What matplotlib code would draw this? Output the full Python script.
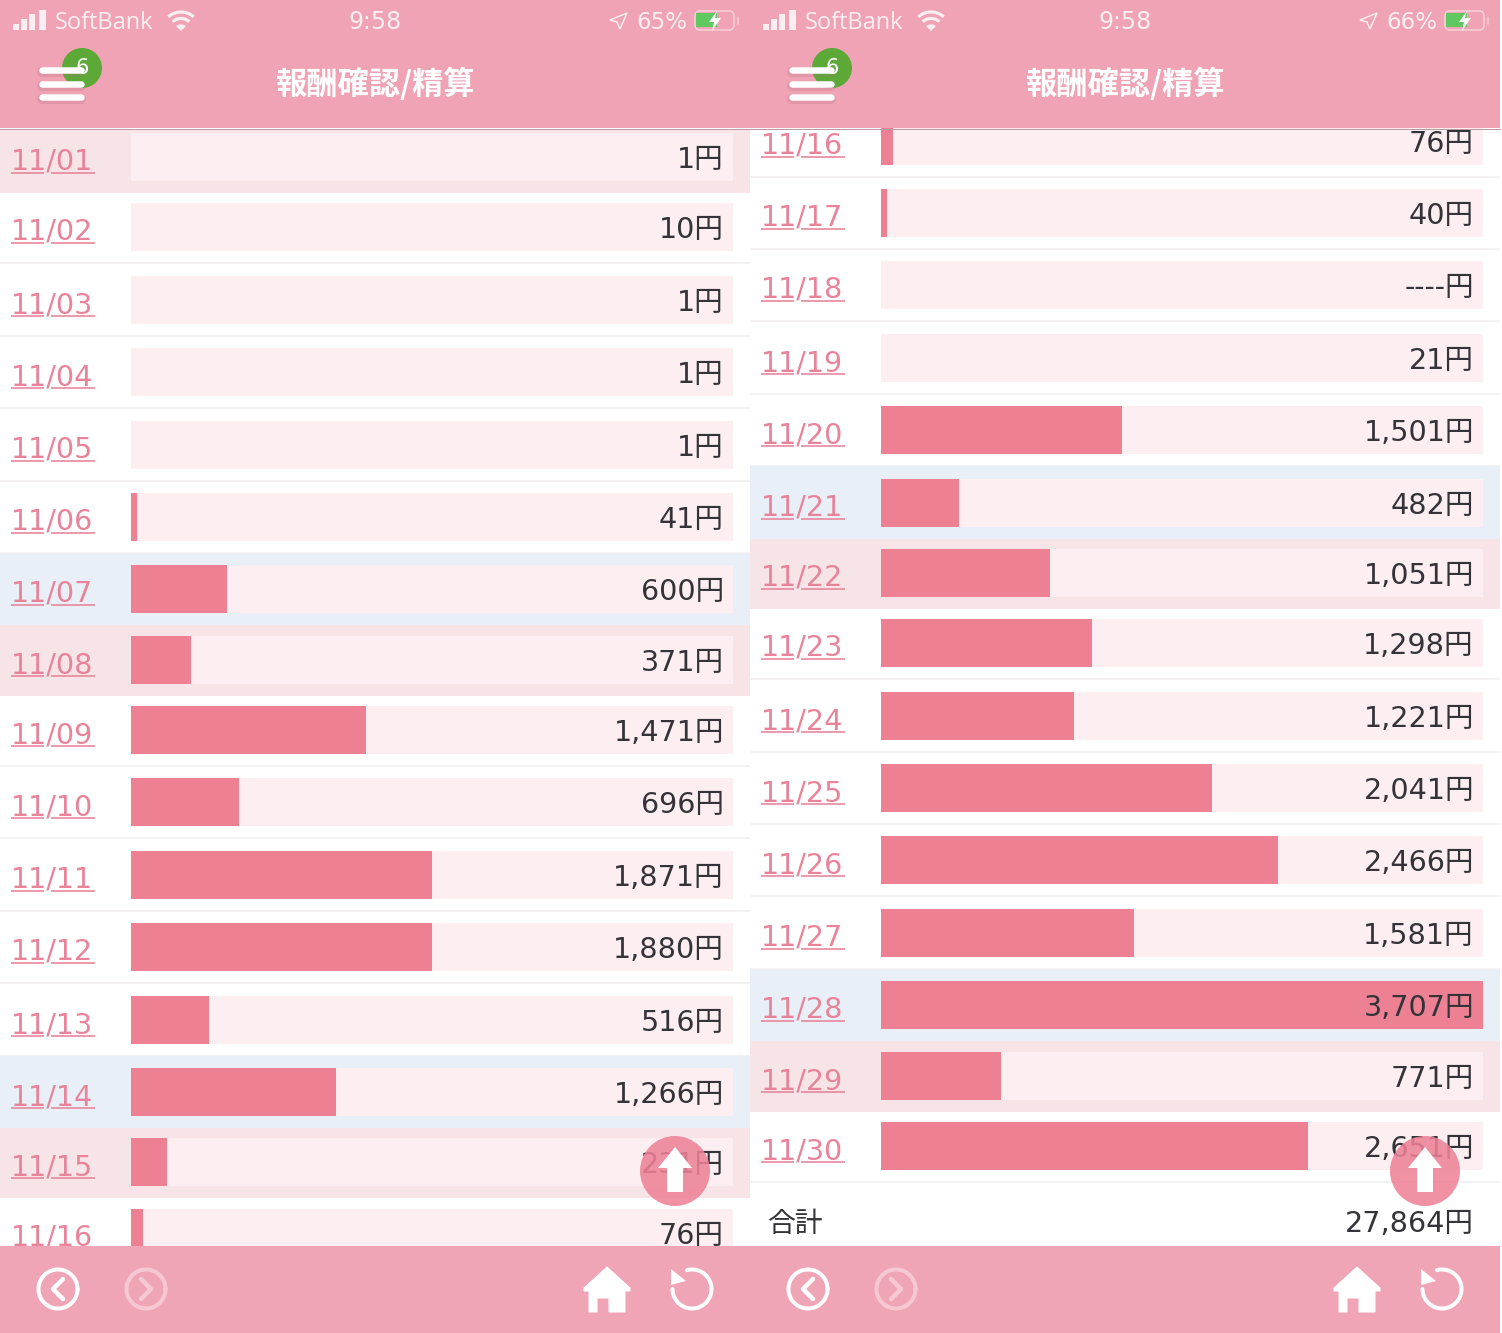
import numpy as np
import matplotlib
matplotlib.use("Agg")
import matplotlib.pyplot as plt
from matplotlib.patches import Rectangle, Circle, Polygon, FancyBboxPatch

# ---------- data ----------
left_dates = ["11/01","11/02","11/03","11/04","11/05","11/06","11/07","11/08",
              "11/09","11/10","11/11","11/12","11/13","11/14","11/15","11/16"]
left_labels = ["1円","10円","1円","1円","1円","41円","600円","371円","1,471円","696円",
               "1,871円","1,880円","516円","1,266円","231円","76円"]
left_percent = [0,0,0,0,0,1,16,10,39,18,50,50,13,34,6,2]

right_dates = ["11/16","11/17","11/18","11/19","11/20","11/21","11/22","11/23",
               "11/24","11/25","11/26","11/27","11/28","11/29","11/30"]
right_labels = ["76円","40円","----円","21円","1,501円","482円","1,051円","1,298円","1,221円",
                "2,041円","2,466円","1,581円","3,707円","771円","2,651円"]
right_percent = [2,1,0,0,40,13,28,35,32,55,66,42,100,20,71]

total_label = "合計"
total_value = "27,864円"
title = "報酬確認/精算"

# ---------- layout (pixels of the screenshot) ----------
W, H = 1502, 1333
left_rows = [157,227,300,372,445,517,589,660,730,802,875,947,1020,1092,1162,1233]
right_rows = [141,213,285,358,430,503,573,643,716,788,860,933,1005,1076,1146]
left_tint = {0:"#f7e4e7", 6:"#e9eff6", 7:"#f7e4e7", 13:"#e9eff6", 14:"#f7e4e7"}
right_tint = {5:"#e9eff6", 6:"#f7e4e7", 12:"#e9eff6", 13:"#f7e4e7"}

HEAD = "#efa3b4"; FOOT = "#efa5b6"; TRACK = "#fceef1"; BAR = "#ee8094"
LINK = "#e8839a"; INK = "#333338"; SEP = "#f4f1f2"; WHITE = "#ffffff"; SOFT = "#fbeef1"
NUM = ["DejaVu Sans", "Noto Sans CJK JP"]
PX = 0.72

fig = plt.figure(figsize=(W/100, H/100), dpi=100, facecolor="white")

def page(z):
    a = fig.add_axes([0, 0, 1, 1], zorder=z)
    a.set_xlim(0, W); a.set_ylim(H, 0); a.axis("off"); a.patch.set_visible(False)
    return a

base = page(0)
texts = page(3)
chrome = page(4)

def panel(dx, dates, labels, pct, rows, tint):
    # row bands and separators
    top = 129
    for i, yc in enumerate(rows):
        bottom = yc + 36
        if i in tint:
            base.add_patch(Rectangle((dx, top), 750, bottom - top, fc=tint[i], ec="none"))
        else:
            base.add_patch(Rectangle((dx, bottom - 1), 750, 2, fc=SEP, ec="none"))
        top = bottom
    # bars on their own percent scale
    ax = fig.add_axes([(dx + 131)/W, 0, 602/W, 1], zorder=2)
    ax.set_xlim(0, 100); ax.set_ylim(H, 0); ax.axis("off"); ax.patch.set_visible(False)
    ax.barh(rows, [100]*len(rows), height=48, color=TRACK, linewidth=0)
    ax.barh(rows, pct, height=48, color=BAR, linewidth=0)
    # labels
    for d, l, yc in zip(dates, labels, rows):
        texts.text(dx + 11, yc + 13, d, family="DejaVu Sans", fontsize=20.6, color=LINK,
                   ha="left", va="baseline")
        texts.plot([dx + 11, dx + 44], [yc + 16, yc + 16], color=LINK, lw=1.6*PX, solid_capstyle="butt")
        texts.plot([dx + 51, dx + 95], [yc + 16, yc + 16], color=LINK, lw=1.6*PX, solid_capstyle="butt")
        texts.text(dx + 724, yc + 11, l, family=NUM, fontsize=20.6, color=INK, ha="right", va="baseline")

panel(0, left_dates, left_labels, left_percent, left_rows, left_tint)
panel(750, right_dates, right_labels, right_percent, right_rows, right_tint)
texts.set_xlim(0, W); texts.set_ylim(H, 0)

texts.text(767, 1232, total_label, family="Noto Sans CJK JP", fontsize=20, color=INK, ha="left", va="baseline")
texts.text(1474, 1232, total_value, family=NUM, fontsize=20.6, color=INK, ha="right", va="baseline")

def line(xs, ys, w, c=WHITE, alpha=1, cap="round"):
    chrome.plot(xs, ys, color=c, lw=w*PX, alpha=alpha, solid_capstyle=cap, solid_joinstyle="round")

def arc(cx, cy, r, a0, a1, w, c=WHITE, alpha=1, cap="round"):
    t = np.radians(np.linspace(a0, a1, 90))
    line(cx + r*np.cos(t), cy - r*np.sin(t), w, c, alpha, cap)

def chrome_panel(dx, pct):
    chrome.add_patch(Rectangle((dx, 0), 750, 128, fc=HEAD, ec="none"))
    chrome.plot([dx, dx + 750], [128.5, 128.5], color="#b99aa3", lw=1*PX)
    chrome.add_patch(Rectangle((dx, 1246), 750, 87, fc=FOOT, ec="none"))

    # status bar
    for x, t in zip([13, 21, 29, 39], [24, 19, 14, 10]):
        chrome.add_patch(Rectangle((dx + x, t), 6 if x < 39 else 7, 30 - t, fc=SOFT, ec="none"))
    chrome.text(dx + 55, 29, "SoftBank", family="Open Sans", fontsize=17, color=SOFT, va="baseline")
    arc(dx + 181, 31, 19, 48, 132, 3.2, SOFT, cap="butt")
    arc(dx + 181, 31, 12.5, 48, 132, 3.2, SOFT, cap="butt")
    chrome.add_patch(Polygon([(dx+181, 31), (dx+176, 26), (dx+179, 24.5), (dx+183, 24.5), (dx+186, 26)], fc=SOFT, ec="none"))
    chrome.text(dx + 375, 29, "9:58", family="DejaVu Sans", fontsize=17, color=SOFT, ha="center", va="baseline")
    chrome.add_patch(Polygon([(dx+610, 20), (dx+627, 13), (dx+620, 29), (dx+617, 22)], fc="none", ec=SOFT, lw=1.5*PX))
    chrome.text(dx + 687, 29, pct, family="DejaVu Sans", fontsize=16.5, color=SOFT, ha="right", va="baseline")
    chrome.add_patch(FancyBboxPatch((dx+695, 11), 39, 19, boxstyle="round,pad=0,rounding_size=5",
                                    fc="none", ec=WHITE, alpha=0.5, lw=1.5*PX))
    chrome.add_patch(Rectangle((dx+696, 13), 21, 14, fc="#5fc85f", ec="none"))
    chrome.add_patch(Polygon([(dx+717, 11), (dx+709, 22), (dx+714, 22), (dx+712, 31), (dx+721, 18), (dx+715, 18)], fc=WHITE, ec="none"))
    line([dx+738, dx+738], [17, 24], 1.5, WHITE, 0.5)

    # menu
    for y in (70, 84, 97):
        line([dx+42, dx+81], [y+2, y+2], 10, "#b06a7c", 0.22)
        line([dx+42, dx+81], [y, y], 6.5)
    chrome.add_patch(Circle((dx+82, 68), 20, fc="#5ca938", ec="none"))
    chrome.text(dx+82, 68, "6", family="DejaVu Sans", fontsize=15, color=WHITE, ha="center", va="center")

    chrome.text(dx+375, 84, title, family="Noto Sans CJK JP", fontweight="bold", fontsize=22.5,
                color=WHITE, ha="center", va="center")

    # scroll-to-top button
    chrome.add_patch(Circle((dx+675, 1171), 35, fc="#ee8197", ec="none", alpha=0.87))
    chrome.add_patch(Polygon([(dx+675, 1147), (dx+692, 1168), (dx+683, 1168), (dx+683, 1192),
                              (dx+667, 1192), (dx+667, 1168), (dx+658, 1168)], fc=WHITE, ec="none"))

    # footer icons
    arc(dx+58, 1289, 19.5, 0, 360, 4)
    line([dx+63, dx+53, dx+63], [1279, 1289, 1299], 4.5)
    arc(dx+146, 1289, 19.5, 0, 360, 4, WHITE, 0.4)
    line([dx+141, dx+151, dx+141], [1279, 1289, 1299], 4.5, WHITE, 0.4)
    chrome.add_patch(Polygon([(dx+607, 1267), (dx+630, 1288), (dx+630, 1291), (dx+625, 1291), (dx+625, 1312),
                              (dx+609, 1312), (dx+609, 1298), (dx+597, 1298), (dx+597, 1312),
                              (dx+589, 1312), (dx+589, 1291), (dx+584, 1291), (dx+584, 1288)],
                             fc=WHITE, ec=WHITE, lw=1*PX, joinstyle="round"))
    arc(dx+692, 1289, 19.5, 105, -180, 4)
    chrome.add_patch(Polygon([(dx+671, 1269), (dx+671, 1285), (dx+686, 1281)], fc=WHITE, ec="none"))

chrome_panel(0, "65%")
chrome_panel(750, "66%")
chrome.set_xlim(0, W); chrome.set_ylim(H, 0)

fig.savefig("out.png", dpi=100, facecolor="white")
